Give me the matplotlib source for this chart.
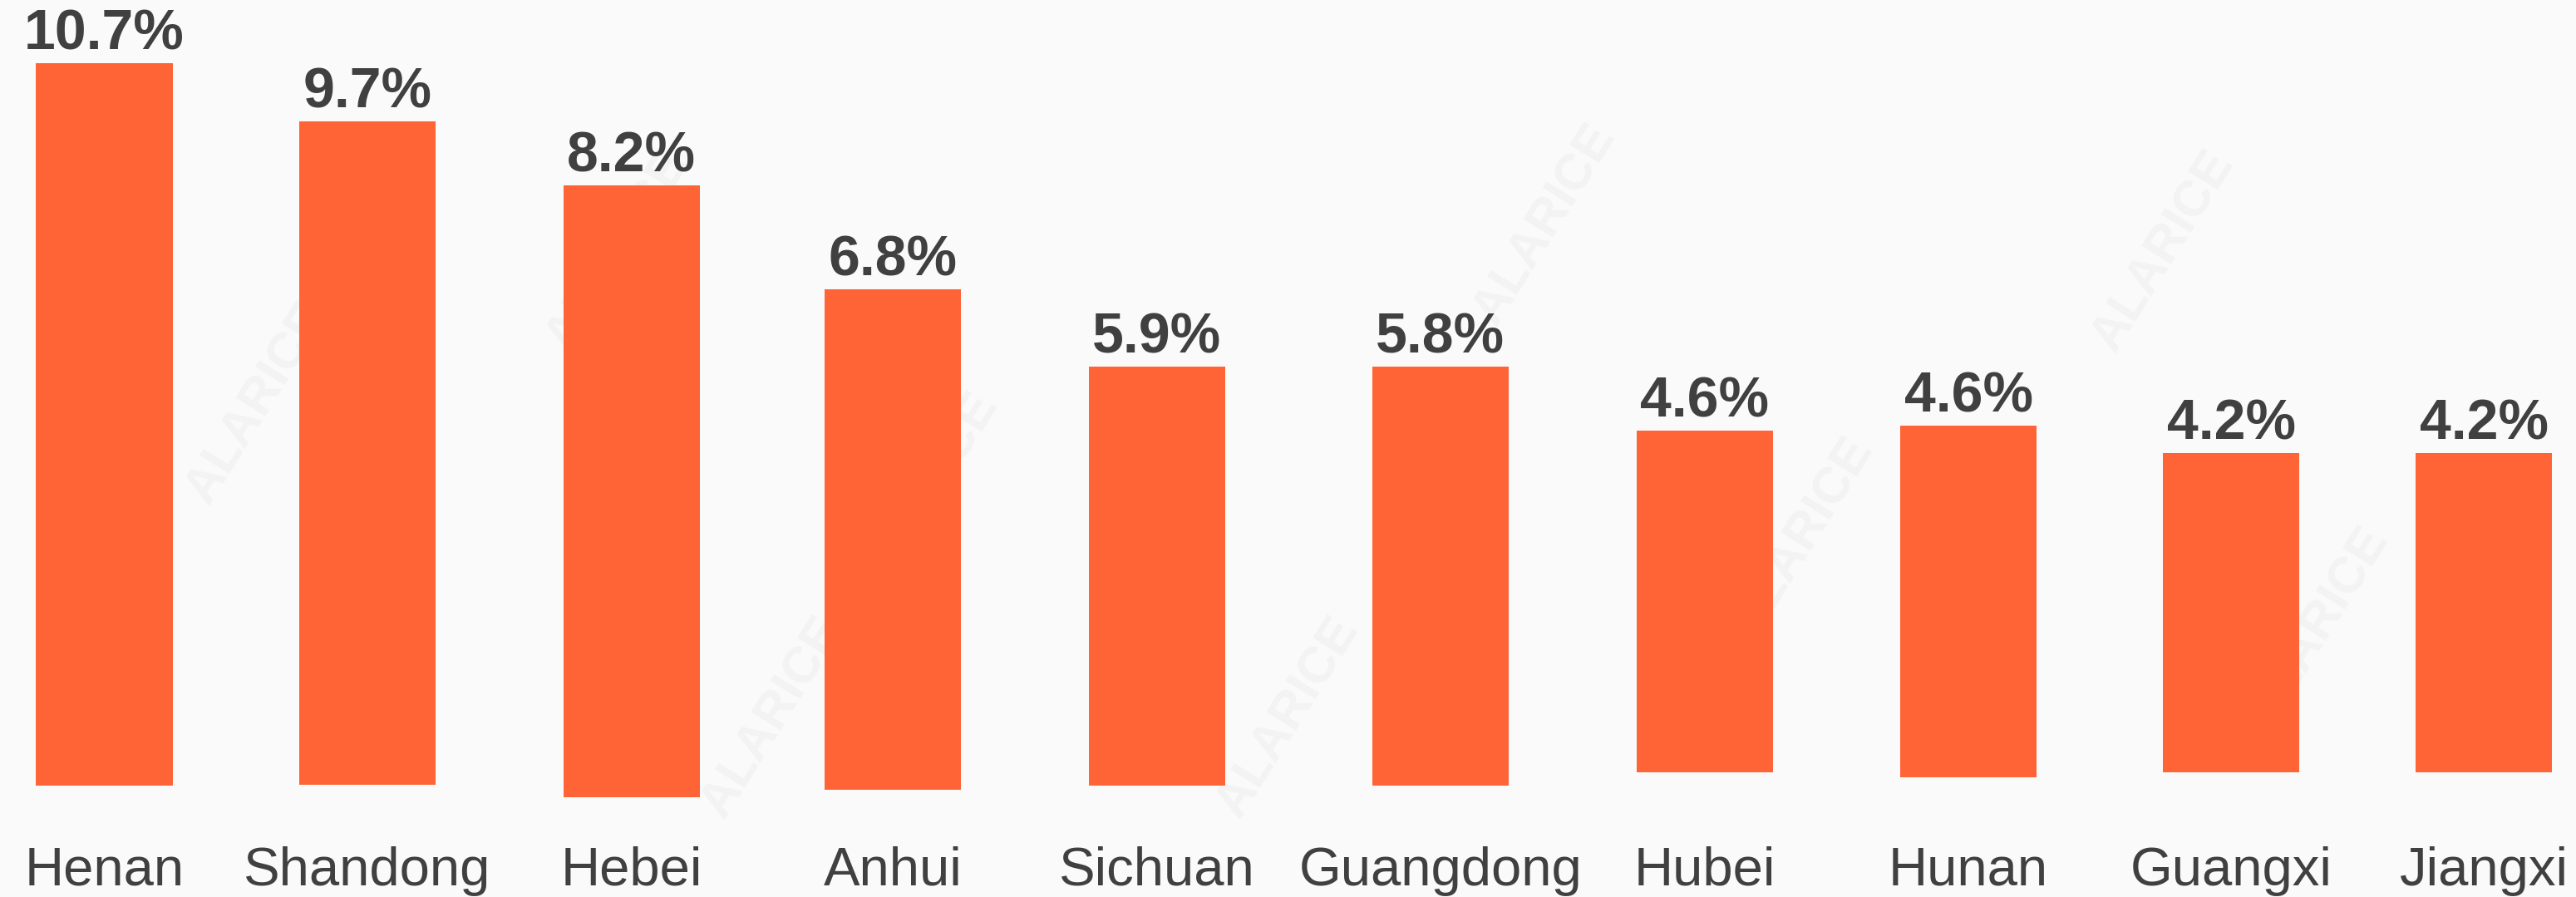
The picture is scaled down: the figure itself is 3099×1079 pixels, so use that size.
import matplotlib.pyplot as plt
import numpy as np

# provinces and their shares (labels), plus the visible bar extents
provinces = ['Henan', 'Shandong', 'Hebei', 'Anhui', 'Sichuan',
             'Guangdong', 'Hubei', 'Hunan', 'Guangxi', 'Jiangxi']
shares = [10.7, 9.7, 8.2, 6.8, 5.9, 5.8, 4.6, 4.6, 4.2, 4.2]
bar_high = [10.70, 9.84, 8.89, 7.35, 6.21, 6.21, 5.26, 5.33, 4.93, 4.93]
bar_low = [0.0, 0.01, -0.17, -0.06, 0.0, 0.0, 0.20, 0.12, 0.20, 0.20]

# small horizontal jitter of the bars in the original layout
x_shift = [0, -0.006, -0.006, -0.018, -0.019, 0.053, 0.053, 0.050, 0.044, 0.0]

bar_color = '#FF6437'
text_color = '#404040'
plt.rcParams['font.family'] = ['Liberation Sans', 'DejaVu Sans']

fig = plt.figure(figsize=(30.99, 10.79), dpi=100)
fig.patch.set_facecolor('#FAFAFA')
ax = fig.add_axes([0, 0, 1, 1])
ax.set_facecolor('#FAFAFA')

# faint watermark, kept away from the edges
for wx, wy in [(0.1, 0.55), (0.24, 0.72), (0.36, 0.45), (0.5, 0.2), (0.6, 0.75),
               (0.7, 0.4), (0.84, 0.72), (0.9, 0.3), (0.3, 0.2)]:
    ax.text(wx, wy, 'ALARICE', transform=ax.transAxes, rotation=58, fontsize=44,
            color='#F3F3F3', ha='center', va='center', zorder=0, fontweight='bold')

x = np.arange(len(provinces)) + np.array(x_shift)
heights = np.array(bar_high) - np.array(bar_low)
bars = ax.bar(x, heights, bottom=bar_low, width=0.516, color=bar_color, zorder=2)

for rect, val in zip(bars, shares):
    ax.annotate(f'{val:.1f}%', xy=(rect.get_x() + rect.get_width() / 2, rect.get_y() + rect.get_height()),
                xytext=(0, 12), textcoords='offset points', ha='center', va='baseline',
                fontsize=49, fontweight='bold', color=text_color, zorder=3)

for xi, name in zip(x, provinces):
    ax.text(xi, 0.013, name, transform=ax.get_xaxis_transform(), ha='center', va='baseline',
            fontsize=47, color=text_color)

ax.set_xlim(-0.3945, 9.348)
ax.set_ylim(-1.650, 11.638)
ax.axis('off')

fig.savefig('out.png', dpi=100, facecolor=fig.get_facecolor())
